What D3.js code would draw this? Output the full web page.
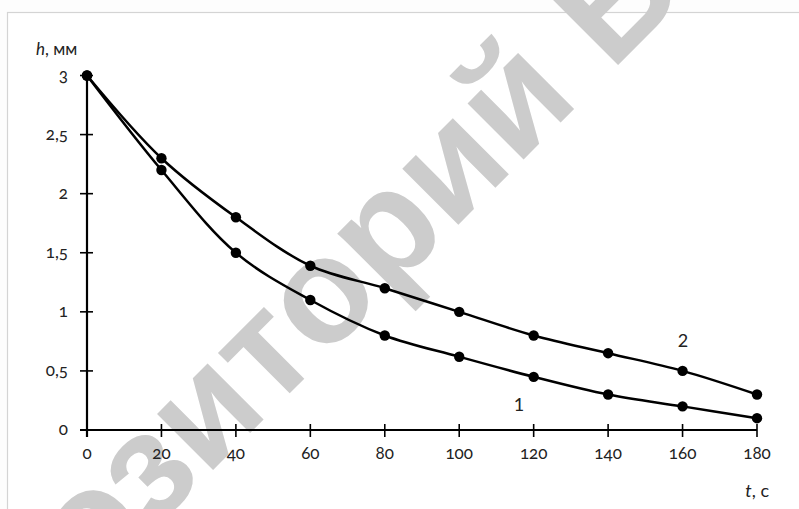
<!DOCTYPE html>
<html>
<head>
<meta charset="utf-8">
<script src="https://cdn.jsdelivr.net/npm/d3@7"></script>
<style>
  html, body { margin: 0; padding: 0; background: #fdfdfd; }
  svg { display: block; }
  .tick-label { font-family: Lato, "Noto Sans", sans-serif; font-size: 17px; fill: #222;
                font-variant-numeric: oldstyle-nums; font-feature-settings: "onum" 1; }
  .caption { font-family: Lato, "Noto Sans", sans-serif; fill: #222; }
</style>
</head>
<body>
<svg id="chart" width="799" height="509"></svg>
<script>
// Time points, s
const times = [0, 20, 40, 60, 80, 100, 120, 140, 160, 180];
// Layer thickness h, mm — curve 1
const series1 = [3, 2.2, 1.5, 1.1, 0.8, 0.62, 0.45, 0.3, 0.2, 0.1];
// Layer thickness h, mm — curve 2
const series2 = [3, 2.3, 1.8, 1.39, 1.2, 1.0, 0.8, 0.65, 0.5, 0.3];
// Axis ticks
const xTicks = [0, 20, 40, 60, 80, 100, 120, 140, 160, 180];
const yTicks = [0, 0.5, 1, 1.5, 2, 2.5, 3];
const yTickLabels = ["0", "0,5", "1", "1,5", "2", "2,5", "3"];

const svg = d3.select("#chart");

// Page frame
svg.append("rect")
  .attr("x", 7.5).attr("y", 12.5)
  .attr("width", 820).attr("height", 520)
  .attr("fill", "#ffffff")
  .attr("stroke", "#d4d4d4")
  .attr("stroke-width", 1.2);

// Repository watermark, laid along a 45° diagonal; the "Б" glyph origin is pinned
const wmText = "Репозиторий БГПУ";
const wm = svg.append("text")
  .attr("font-family", "'Liberation Sans', Arial, sans-serif")
  .attr("font-weight", "bold")
  .attr("font-size", 150)
  .attr("fill", "#cccccc")
  .text(wmText);
const before = wm.node().getSubStringLength(0, wmText.indexOf("Б"));
const bOrigin = [611, 72];
const c = Math.SQRT1_2;
wm.attr("transform",
  `translate(${bOrigin[0] - before * c},${bOrigin[1] + before * c}) rotate(-45)`);

const x = d3.scaleLinear().domain([0, 180]).range([87, 757]);
const y = d3.scaleLinear().domain([0, 3]).range([430, 75.5]);

// Axes: ticks cross the axis line
const xAxisG = svg.append("g").attr("transform", `translate(0,${y(0)})`);
xAxisG.append("line")
  .attr("x1", 80).attr("x2", x(180))
  .attr("stroke", "#000").attr("stroke-width", 2.2);
xAxisG.selectAll("line.tk").data(xTicks).join("line")
  .attr("class", "tk")
  .attr("x1", d => x(d)).attr("x2", d => x(d))
  .attr("y1", -6).attr("y2", 7)
  .attr("stroke", "#000").attr("stroke-width", 1.6);
xAxisG.selectAll("text").data(xTicks).join("text")
  .attr("class", "tick-label")
  .attr("x", d => x(d)).attr("y", 29)
  .attr("text-anchor", "middle")
  .text(d => d);

const yAxisG = svg.append("g").attr("transform", `translate(${x(0)},0)`);
yAxisG.append("line")
  .attr("y1", y(0) + 7).attr("y2", y(3))
  .attr("stroke", "#000").attr("stroke-width", 2.2);
yAxisG.selectAll("line.tk").data(yTicks).join("line")
  .attr("class", "tk")
  .attr("x1", -7).attr("x2", 6)
  .attr("y1", d => y(d)).attr("y2", d => y(d))
  .attr("stroke", "#000").attr("stroke-width", 1.6);
yAxisG.selectAll("text").data(yTicks).join("text")
  .attr("class", "tick-label")
  .attr("x", -19).attr("y", d => y(d) + 5)
  .attr("text-anchor", "end")
  .text((d, i) => yTickLabels[i]);

// Axis titles
const yTitle = svg.append("text")
  .attr("class", "caption")
  .attr("x", 36).attr("y", 55)
  .attr("font-size", 17);
yTitle.append("tspan").attr("font-style", "italic").text("h");
yTitle.append("tspan").text(", мм");

const xTitle = svg.append("text")
  .attr("class", "caption")
  .attr("x", 769).attr("y", 497)
  .attr("text-anchor", "end")
  .attr("font-size", 18);
xTitle.append("tspan").attr("font-style", "italic").text("t");
xTitle.append("tspan").text(", с");

// Curves with markers
const line = d3.line()
  .x((d, i) => x(times[i]))
  .y(d => y(d))
  .curve(d3.curveCatmullRom.alpha(0.5));

[series1, series2].forEach(s => {
  svg.append("path")
    .attr("d", line(s))
    .attr("fill", "none")
    .attr("stroke", "#000")
    .attr("stroke-width", 2.5);
  svg.append("g").selectAll("circle").data(s).join("circle")
    .attr("cx", (d, i) => x(times[i]))
    .attr("cy", d => y(d))
    .attr("r", 5.2)
    .attr("fill", "#000");
});

// Curve numbers
svg.append("text")
  .attr("class", "caption")
  .attr("x", 519).attr("y", 411)
  .attr("text-anchor", "middle")
  .attr("font-size", 18).attr("fill", "#111")
  .text("1");
svg.append("text")
  .attr("class", "caption")
  .attr("x", 683).attr("y", 347)
  .attr("text-anchor", "middle")
  .attr("font-size", 18).attr("fill", "#111")
  .text("2");
</script>
</body>
</html>
